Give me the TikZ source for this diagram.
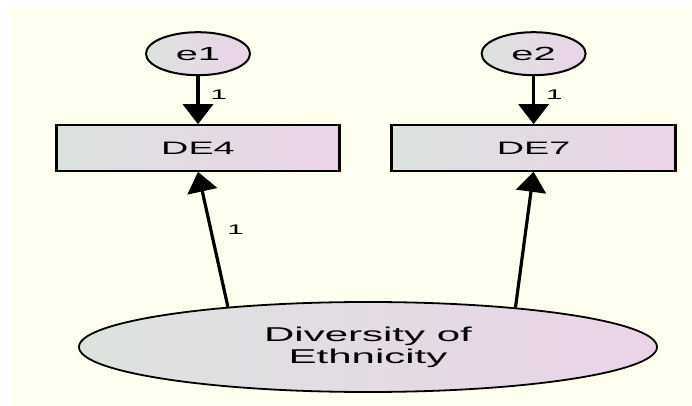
\documentclass[tikz,border=0pt]{standalone}
\usepackage{fontspec}
\setmainfont{Liberation Sans}
\usepackage{graphicx}
\usetikzlibrary{positioning,shapes.geometric,arrows.meta}
\definecolor{amivory}{HTML}{FFFFF0}
\definecolor{amgrey}{HTML}{DCE3DF}
\definecolor{ampink}{HTML}{EBD3E8}
\newcommand{\wtext}[1]{\scalebox{2.1}[1]{#1}}

\begin{document}
\begin{tikzpicture}[x=1pt, y=1pt,
  obs/.style={rectangle, draw=black, line width=1.6pt, left color=amgrey, right color=ampink,
    minimum width=284pt, minimum height=46pt, inner sep=0pt, font=\fontsize{18}{20}\selectfont},
  err/.style={ellipse, draw=black, line width=2pt, left color=amgrey, right color=ampink,
    minimum width=104pt, minimum height=43pt, inner sep=0pt, font=\fontsize{19}{21}\selectfont},
  lat/.style={ellipse, draw=black, line width=1.8pt, left color=amgrey, right color=ampink,
    minimum width=578pt, minimum height=90pt, inner sep=0pt, align=center,
    font=\fontsize{20}{22}\selectfont},
  arr/.style={-{Triangle[length=20pt, width=30pt]}, line width=3.2pt},
  lbl/.style={font=\fontsize{14}{14}\selectfont, inner sep=1pt}
]
\fill[white] (0,0) rectangle (692,406);
\fill[amivory] (10,0) rectangle (692,398);
\useasboundingbox (0,0) rectangle (692,406);

\node[obs] (de4) at (198,258) {\wtext{DE4}};
\node[obs, right=50pt of de4] (de7) {\wtext{DE7}};
\node[err, above=48pt of de4] (e1) {\wtext{e1}};
\node[err, above=48pt of de7] (e2) {\wtext{e2}};
\node[lat] (eth) at (368,59) {\wtext{Diversity of}\\\wtext{Ethnicity}};

% heavier side edges of the boxes
\foreach \n in {de4,de7} {
  \draw[line width=3pt] ([xshift=1pt]\n.north west) -- ([xshift=1pt]\n.south west);
  \draw[line width=3pt] ([xshift=-1pt]\n.north east) -- ([xshift=-1pt]\n.south east);
}

\draw[arr] (e1) -- (de4) node[lbl, pos=0.375, right=10pt] {\wtext{1}};
\draw[arr] (e2) -- (de7) node[lbl, pos=0.375, right=10pt] {\wtext{1}};
\draw[arr] (eth.164.5) -- (de4.south) node[lbl, pos=0.57, right=14pt] {\wtext{1}};
\draw[arr] (eth.15.5) -- (de7.south);
\end{tikzpicture}
\end{document}
